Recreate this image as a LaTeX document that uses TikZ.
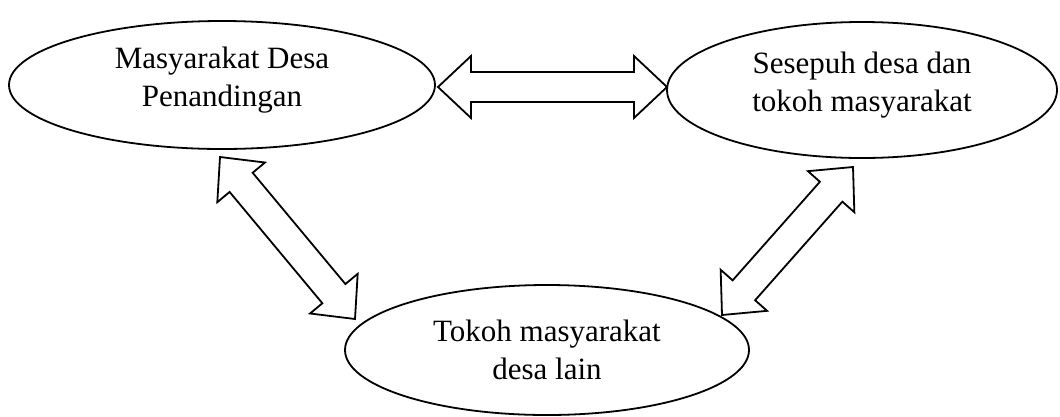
\documentclass[tikz,border=0pt]{standalone}
\usepackage{fontspec}
\setmainfont{Liberation Serif}
\usetikzlibrary{calc,shapes.geometric}
\newcommand\dblarr[2]{%
  \draw[arrowline]
    (#1)
    -- ($($(#1)!33pt!(#2)$)!31pt!90:(#2)$)
    -- ($($(#1)!33pt!(#2)$)!15pt!90:(#2)$)
    -- ($($(#2)!33pt!(#1)$)!15pt!-90:(#1)$)
    -- ($($(#2)!33pt!(#1)$)!31pt!-90:(#1)$)
    -- (#2)
    -- ($($(#2)!33pt!(#1)$)!31pt!90:(#1)$)
    -- ($($(#2)!33pt!(#1)$)!15pt!90:(#1)$)
    -- ($($(#1)!33pt!(#2)$)!15pt!-90:(#2)$)
    -- ($($(#1)!33pt!(#2)$)!31pt!-90:(#2)$)
    -- cycle;}
\newcommand\lowstrut{\rule[-17pt]{0pt}{1pt}}
\begin{document}
\begin{tikzpicture}[x=1pt,y=-1pt,
  oval/.style={ellipse,draw,line width=1.8pt,inner sep=0pt,align=center,
    font=\fontsize{31}{38}\selectfont},
  arrowline/.style={draw,line width=1.8pt,line join=miter,fill=white}]
\useasboundingbox (0,0) rectangle (1060,416);
\node[oval,minimum width=426pt,minimum height=128pt] (ma) at (222,85)
  {Masyarakat Desa\\Penandingan\lowstrut};
\node[oval,minimum width=390pt,minimum height=136pt] (se) at (862,90)
  {Sesepuh desa dan\\tokoh masyarakat\lowstrut};
\node[oval,minimum width=404pt,minimum height=130pt] (to) at (547,350)
  {Tokoh masyarakat\\desa lain};
\coordinate (t1) at (438,87);
\coordinate (t2) at (667,87);
\coordinate (l1) at (220,157);
\coordinate (l2) at (355,319);
\coordinate (r1) at (853,167);
\coordinate (r2) at (722,315);
\dblarr{t1}{t2}
\dblarr{l1}{l2}
\dblarr{r1}{r2}
\end{tikzpicture}
\end{document}
